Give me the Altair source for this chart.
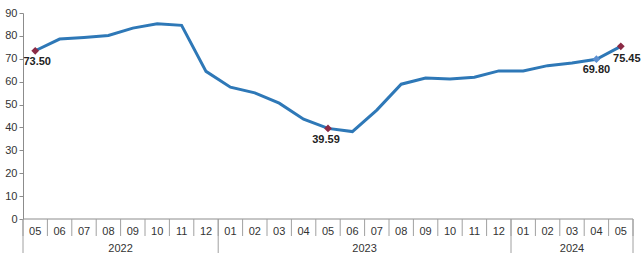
import altair as alt
import pandas as pd

months = ["05","06","07","08","09","10","11","12",
          "01","02","03","04","05","06","07","08","09","10","11","12",
          "01","02","03","04","05"]
years = ["2022"]*8 + ["2023"]*12 + ["2024"]*5
values = [73.50, 78.6, 79.3, 80.2, 83.4, 85.3, 84.6, 64.5,
          57.6, 55.1, 50.6, 43.6, 39.59, 38.2, 47.6, 58.9, 61.6, 61.2, 61.9, 64.7,
          64.7, 67.0, 68.2, 69.80, 75.45]
labels = ["73.50", "39.59", "69.80", "75.45"]
label_idx = [0, 12, 23, 24]
marker_colors = ["#8B2A45", "#8B2A45", "#5B8FD0", "#8B2A45"]
label_dx = [2, -2, 0, 6]
label_dy = [11, 12, 11, 13]

year_names = ["2022", "2023", "2024"]
year_bounds = [0, 8, 20, 25]

W, H = 610, 206
n = len(values)

df = pd.DataFrame({"pos": [i + 0.5 for i in range(n)], "value": values,
                   "month": months, "year": years})
hl = pd.DataFrame({"pos": [label_idx[k] + 0.5 for k in range(4)],
                   "value": [values[i] for i in label_idx],
                   "label": labels, "color": marker_colors})

xs = alt.Scale(domain=[0, n], nice=False, zero=False)
ys = alt.Scale(domain=[0, 90], nice=False)
yaxis = alt.Axis(values=list(range(0, 100, 10)), grid=False,
                 labelOverlap=False, labelBound=False, labelFlush=False,
                 domainColor="#8C8C8C", tickColor="#8C8C8C", tickSize=4,
                 labelFont="Liberation Sans", labelFontSize=11,
                 labelColor="#333333", labelPadding=2)
X = lambda f: alt.X(f, scale=xs, axis=None)
Y = lambda f: alt.Y(f, scale=ys, title=None, axis=yaxis)

base = alt.Chart(df)
line = base.mark_line(color="#2E78B7", strokeWidth=3).encode(
    x=X("pos:Q"), y=Y("value:Q"))

pts = alt.Chart(hl).mark_point(shape="diamond", filled=True, size=60, opacity=1).encode(
    x=X("pos:Q"), y=Y("value:Q"),
    color=alt.Color("color:N", scale=None))

txt_layers = []
for k in range(4):
    txt_layers.append(alt.Chart(hl.iloc[[k]]).mark_text(
        font="Liberation Sans", fontSize=11, fontWeight="bold", color="#222222",
        dx=label_dx[k], dy=label_dy[k]).encode(
        x=X("pos:Q"), y=Y("value:Q"), text="label:N"))

axis_line = alt.Chart(pd.DataFrame({"a": [0], "b": [n]})).mark_rule(color="#8C8C8C").encode(
    x=X("a:Q"), x2="b:Q", y=alt.value(H))

bounds = pd.DataFrame({"b": list(range(0, n + 1))})
month_sep = alt.Chart(bounds).mark_rule(color="#A0A0A0").encode(
    x=X("b:Q"), y=alt.value(H), y2=alt.value(H + 17))

ysep = pd.DataFrame({"b": year_bounds})
year_sep = alt.Chart(ysep).mark_rule(color="#A0A0A0").encode(
    x=X("b:Q"), y=alt.value(H), y2=alt.value(H + 34))

month_txt = base.mark_text(font="Liberation Sans", fontSize=11, color="#333333",
                           baseline="middle").encode(
    x=X("pos:Q"), y=alt.value(H + 13), text="month:N")

yc = pd.DataFrame({"c": [(year_bounds[i] + year_bounds[i + 1]) / 2 for i in range(3)],
                   "y": year_names})
year_txt = alt.Chart(yc).mark_text(font="Liberation Sans", fontSize=11, color="#333333",
                                   baseline="middle").encode(
    x=X("c:Q"), y=alt.value(H + 30), text="y:N")

chart = alt.layer(axis_line, month_sep, year_sep, month_txt, year_txt, line, pts,
                  *txt_layers).properties(
    width=W, height=H, autosize=alt.AutoSizeParams(type="none"),
    padding={"left": 23, "top": 13, "right": 10, "bottom": 39},
    background="white"
).configure_view(stroke=None)

chart.save("out.html", embed_options={"renderer": "svg", "actions": False})
